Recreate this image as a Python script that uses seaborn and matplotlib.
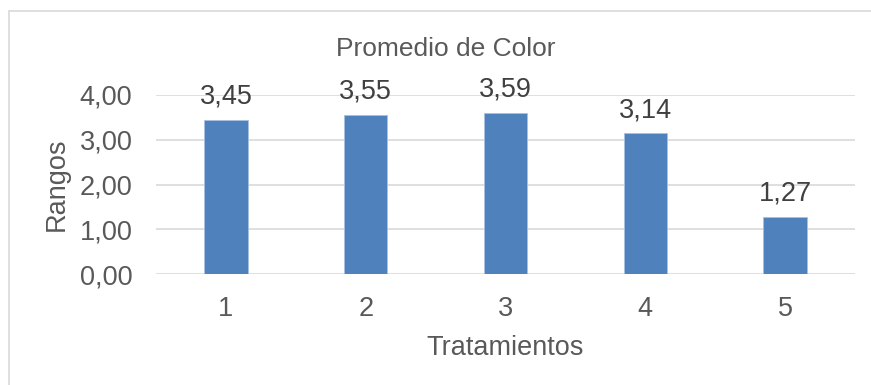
import matplotlib
matplotlib.use("Agg")
import matplotlib.pyplot as plt
from matplotlib.lines import Line2D
import seaborn as sns
import pandas as pd

tratamientos = ["1", "2", "3", "4", "5"]
promedios = [3.45, 3.55, 3.59, 3.14, 1.27]
y_ticks = [0, 1, 2, 3, 4]

sns.set_theme(style="white")
plt.rcParams["font.family"] = ["Liberation Sans", "DejaVu Sans"]

text_color = "#595959"
grid_color = "#D9D9D9"
bar_color = "#4F81BD"

df = pd.DataFrame({"Tratamientos": tratamientos, "Rangos": promedios})

fig = plt.figure(figsize=(8.71, 3.85), dpi=100)
ax = fig.add_axes([156 / 871, 1 - 274 / 385, (855 - 156) / 871, (274 - 95) / 385])

sns.barplot(data=df, x="Tratamientos", y="Rangos", color=bar_color,
            width=0.31, saturation=1, edgecolor="#A9C1E0", linewidth=0.6, ax=ax)

ax.set_ylim(0, 4)
ax.set_xlim(-0.5, len(tratamientos) - 0.5)
ax.set_yticks(y_ticks)
ax.set_yticklabels([f"{v:.2f}".replace(".", ",") for v in y_ticks])
ax.yaxis.grid(True, color=grid_color, linewidth=1.2)
ax.set_axisbelow(True)
for s in ax.spines.values():
    s.set_visible(False)
ax.tick_params(axis="both", length=0, labelsize=19.5, colors=text_color)
ax.tick_params(axis="y", pad=17)
ax.tick_params(axis="x", pad=16)

for c in ax.containers:
    ax.bar_label(c, labels=[f"{v:.2f}".replace(".", ",") for v in promedios],
                 padding=7.5, fontsize=19.5, color="#404040")

ax.set_xlabel("Tratamientos", fontsize=19.5, color=text_color, labelpad=9.5)
ax.set_ylabel("Rangos", fontsize=19.5, color=text_color, labelpad=7)
fig.text(446 / 871, 1 - 48.5 / 385, "Promedio de Color", ha="center", va="center",
         fontsize=19, color=text_color)

# chart frame
fig.add_artist(Line2D([9 / 871, 9 / 871], [0, 1 - 11 / 385], transform=fig.transFigure,
                      color=grid_color, linewidth=1.2))
fig.add_artist(Line2D([9 / 871, 1], [1 - 11 / 385, 1 - 11 / 385], transform=fig.transFigure,
                      color=grid_color, linewidth=1.2))

fig.savefig("out.png", dpi=100, facecolor="white")
